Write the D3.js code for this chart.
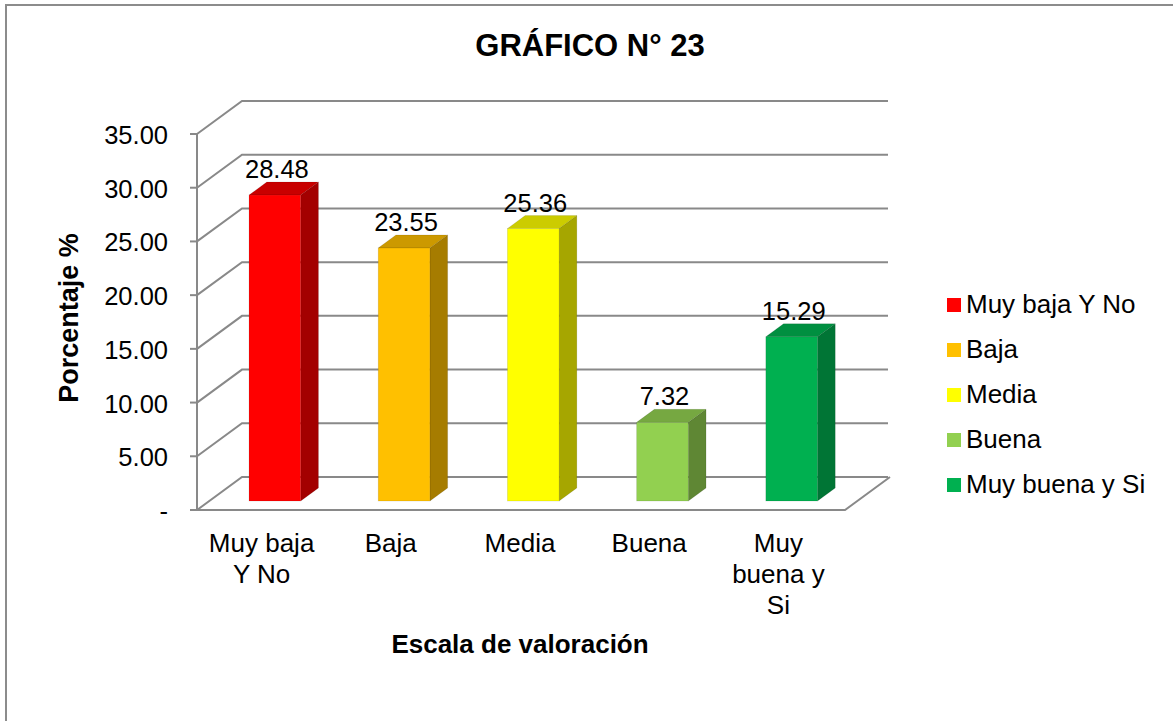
<!DOCTYPE html>
<html>
<head>
<meta charset="utf-8">
<script src="https://cdn.jsdelivr.net/npm/d3@7/dist/d3.min.js"></script>
<style>
html,body{margin:0;padding:0;background:#fff;}
svg{display:block;font-family:"Liberation Sans",Arial,sans-serif;}
</style>
</head>
<body>
<svg id="chart" width="1173" height="721"></svg>
<script>
const categories = ["Muy baja Y No", "Baja", "Media", "Buena", "Muy buena y Si"];
const categoryLines = [["Muy baja", "Y No"], ["Baja"], ["Media"], ["Buena"], ["Muy", "buena y", "Si"]];
const values = [28.48, 23.55, 25.36, 7.32, 15.29];
const yTicks = [0, 5, 10, 15, 20, 25, 30, 35];
const yTickLabels = ["-", "5.00", "10.00", "15.00", "20.00", "25.00", "30.00", "35.00"];
const frontColors = ["#FF0000", "#FFC000", "#FFFF00", "#92D050", "#00B050"];
const topColors = ["#C80000", "#CC9900", "#CCCC00", "#76A841", "#008F40"];
const sideColors = ["#A30000", "#A67C00", "#A6A600", "#5F8734", "#007535"];

const svg = d3.select("#chart");
const W = 1173, H = 721;
svg.append("rect").attr("width", W).attr("height", H).attr("fill", "#fff");
// outer border
svg.append("path").attr("d", `M6,${H+2} L6,5 L${W+2},5`).attr("fill", "none")
  .attr("stroke", "#8c8c8c").attr("stroke-width", 2);

const DX = 45, DY = -33;
const x0 = 197, x1 = 843;
const y = d3.scaleLinear().domain([0, 35]).range([510, 134]);
const xBand = d3.scaleBand().domain(categories).range([x0 + 1, x1 + 1]);
const gridColor = "#898989";

// gridlines (side wall diagonals + back wall horizontals)
const grid = svg.append("g");
yTicks.forEach(t => {
  const yy = y(t);
  grid.append("path")
    .attr("d", `M${x0},${yy} L${x0 + DX},${yy + DY} L${x1 + DX},${yy + DY}`)
    .attr("fill", "none").attr("stroke", gridColor).attr("stroke-width", 2);
});
// floor front edge and right edge
grid.append("path")
  .attr("d", `M${x0},${y(0)} L${x1 + 2},${y(0)} L${x1 + 2 + DX},${y(0) + DY}`)
  .attr("fill", "none").attr("stroke", gridColor).attr("stroke-width", 2);

// y axis line + ticks
const axis = svg.append("g");
axis.append("line").attr("x1", x0).attr("x2", x0).attr("y1", y(35)).attr("y2", y(0))
  .attr("stroke", gridColor).attr("stroke-width", 2);
yTicks.forEach((t, i) => {
  axis.append("line").attr("x1", x0 - 7).attr("x2", x0).attr("y1", y(t)).attr("y2", y(t))
    .attr("stroke", gridColor).attr("stroke-width", 2);
  axis.append("text").attr("x", 168).attr("y", y(t) + 10)
    .attr("text-anchor", "end").attr("font-size", 25.5).attr("fill", "#000")
    .text(yTickLabels[i]);
});

// bars
const zf = 9 / 33, zb = 22 / 33;
const barW = xBand.bandwidth() * 0.40;
const bars = svg.append("g");
categories.forEach((c, i) => {
  const v = values[i];
  const cx = xBand(c) + xBand.bandwidth() / 2;
  const L = cx - barW / 2 + zf * DX, R = L + barW;
  const bY = y(0) + zf * DY, tY = y(v) + zf * DY;
  const ddx = (zb - zf) * DX, ddy = (zb - zf) * DY;
  // side
  bars.append("path")
    .attr("d", `M${R},${bY} L${R + ddx},${bY + ddy} L${R + ddx},${tY + ddy} L${R},${tY} Z`)
    .attr("fill", sideColors[i]).attr("stroke", "rgba(0,0,0,0.12)").attr("stroke-width", 0.8);
  // top
  bars.append("path")
    .attr("d", `M${L},${tY} L${L + ddx},${tY + ddy} L${R + ddx},${tY + ddy} L${R},${tY} Z`)
    .attr("fill", topColors[i]).attr("stroke", "rgba(0,0,0,0.12)").attr("stroke-width", 0.8);
  // front
  bars.append("rect").attr("x", L).attr("y", tY).attr("width", barW).attr("height", bY - tY)
    .attr("fill", frontColors[i]).attr("stroke", "rgba(0,0,0,0.12)").attr("stroke-width", 0.8);
  // value label
  bars.append("text").attr("x", (L + R) / 2 + 2).attr("y", tY + ddy - 4)
    .attr("text-anchor", "middle").attr("font-size", 25.5).attr("fill", "#000")
    .text(v.toFixed(2));
  // category label
  const lab = svg.append("text").attr("text-anchor", "middle").attr("font-size", 26).attr("fill", "#000");
  categoryLines[i].forEach((ln, k) => {
    lab.append("tspan").attr("x", cx - 1).attr("y", 552 + k * 31).text(ln);
  });
});

// titles
svg.append("text").attr("x", 590).attr("y", 56).attr("text-anchor", "middle")
  .attr("font-size", 31).attr("font-weight", "bold").text("GRÁFICO N° 23");
svg.append("text").attr("x", 520).attr("y", 653).attr("text-anchor", "middle")
  .attr("font-size", 26).attr("font-weight", "bold").text("Escala de valoración");
svg.append("text").attr("transform", "translate(78,318) rotate(-90)").attr("text-anchor", "middle")
  .attr("font-size", 27).attr("font-weight", "bold").text("Porcentaje %");

// legend
const leg = svg.append("g");
categories.forEach((c, i) => {
  const by = 313 + i * 45;
  leg.append("rect").attr("x", 947).attr("y", by - 15).attr("width", 14).attr("height", 14)
    .attr("fill", frontColors[i]);
  leg.append("text").attr("x", 966).attr("y", by).attr("font-size", 26).attr("fill", "#000").text(c);
});
</script>
</body>
</html>
